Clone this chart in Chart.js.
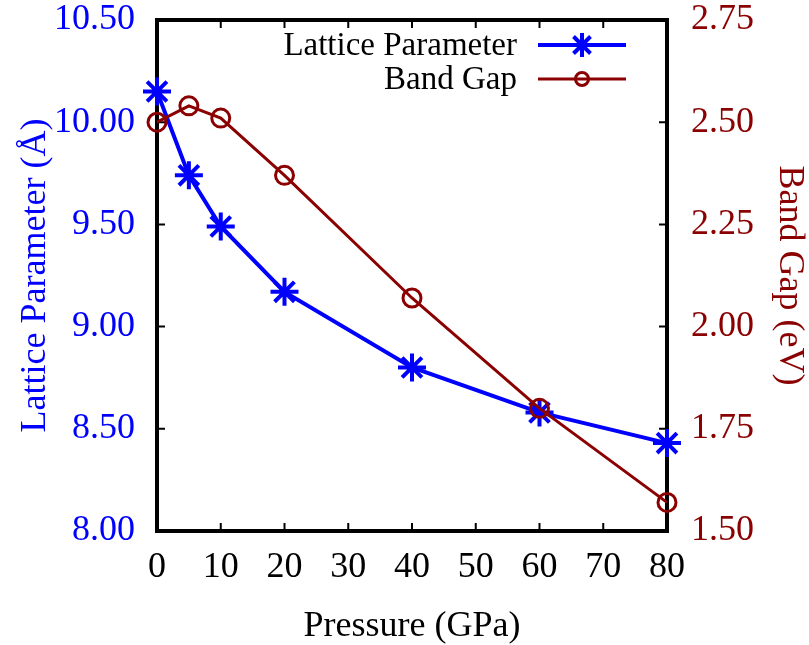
<!DOCTYPE html>
<html>
<head>
<meta charset="utf-8">
<title>Lattice Parameter and Band Gap vs Pressure</title>
<script src="https://cdn.jsdelivr.net/npm/chart.js@4/dist/chart.umd.min.js"></script>
<style>
  html, body { margin: 0; padding: 0; background: #ffffff; }
  #wrap { width: 809px; height: 645px; }
</style>
</head>
<body>
<div id="wrap"><canvas id="chart" width="809" height="645"></canvas></div>
<script>
// Pressure points (GPa)
const pressure = [0, 5, 10, 20, 40, 60, 80];
// Lattice parameter (Å) at each pressure
const latticeParam = [10.15, 9.74, 9.49, 9.17, 8.80, 8.58, 8.43];
// Band gap (eV) at each pressure
const bandGap = [2.50, 2.54, 2.51, 2.37, 2.07, 1.80, 1.57];

// Axis ranges
const pressureRange = [0, 80];
const latticeRange = [8.0, 10.5];
const gapRange = [1.5, 2.75];

const seriesNames = ['Lattice Parameter', 'Band Gap'];

const BLUE = '#0000ff';
const DARK_RED = '#8b0000';
const FONT_FAMILY = "'Liberation Serif', 'Times New Roman', serif";
const FONT_SIZE = 36;

const toPoints = (ys) => pressure.map((p, i) => ({ x: p, y: ys[i] }));

// Thick frame with inward tick marks
const framePlugin = {
  id: 'frame',
  beforeDatasetsDraw(chart) {
    const { ctx, chartArea: a, scales } = chart;
    ctx.save();
    ctx.strokeStyle = '#000';
    ctx.lineWidth = 2;
    const tl = 8;
    ctx.beginPath();
    scales.x.ticks.forEach(t => {
      const px = scales.x.getPixelForValue(t.value);
      ctx.moveTo(px, a.bottom); ctx.lineTo(px, a.bottom - tl);
      ctx.moveTo(px, a.top); ctx.lineTo(px, a.top + tl);
    });
    scales.yL.ticks.forEach(t => {
      const py = scales.yL.getPixelForValue(t.value);
      ctx.moveTo(a.left, py); ctx.lineTo(a.left + tl, py);
    });
    scales.yR.ticks.forEach(t => {
      const py = scales.yR.getPixelForValue(t.value);
      ctx.moveTo(a.right, py); ctx.lineTo(a.right - tl, py);
    });
    ctx.stroke();
    ctx.lineWidth = 4;
    ctx.strokeRect(a.left, a.top, a.right - a.left, a.bottom - a.top);
    ctx.restore();
  }
};

// Key in the upper right: right-aligned names followed by a line sample with its marker
const keyPlugin = {
  id: 'key',
  afterDraw(chart) {
    const { ctx } = chart;
    const textRight = 517, lineStart = 538, lineEnd = 626;
    const rows = [45, 79];
    ctx.save();
    ctx.font = `33px ${FONT_FAMILY}`;
    ctx.textAlign = 'right';
    ctx.textBaseline = 'middle';
    ctx.fillStyle = '#000';
    chart.data.datasets.slice().sort((a, b) => a.keyRow - b.keyRow).forEach((ds, i) => {
      const y = rows[i];
      ctx.fillText(ds.label, textRight, y + 1);
      ctx.strokeStyle = ds.borderColor;
      ctx.lineWidth = ds.borderWidth;
      ctx.beginPath();
      ctx.moveTo(lineStart, y); ctx.lineTo(lineEnd, y);
      ctx.stroke();
      const cx = (lineStart + lineEnd) / 2;
      ctx.lineWidth = ds.pointBorderWidth;
      ctx.beginPath();
      if (ds.pointStyle === 'star') {
        const r = 12;
        const d = r * Math.SQRT1_2;
        ctx.moveTo(cx - r, y); ctx.lineTo(cx + r, y);
        ctx.moveTo(cx, y - r); ctx.lineTo(cx, y + r);
        ctx.moveTo(cx - d, y - d); ctx.lineTo(cx + d, y + d);
        ctx.moveTo(cx - d, y + d); ctx.lineTo(cx + d, y - d);
      } else {
        const rr = 6.5;
        ctx.moveTo(cx + rr, y);
        ctx.arc(cx, y, rr, 0, Math.PI * 2);
      }
      ctx.stroke();
    });
    ctx.restore();
  }
};

const tickFont = { family: FONT_FAMILY, size: FONT_SIZE, lineHeight: 1.1 };
const titleFont = { family: FONT_FAMILY, size: FONT_SIZE, lineHeight: 1.0 };

// Fixed axis band sizes so the plot box sits where intended
const fitVertical = (w) => (scale) => { scale.width = w; scale.paddingTop = 0; scale.paddingBottom = 0; };

new Chart(document.getElementById('chart'), {
  type: 'line',
  data: {
    datasets: [
      {
        label: seriesNames[0],
        keyRow: 0,
        data: toPoints(latticeParam),
        yAxisID: 'yL',
        borderColor: BLUE,
        backgroundColor: BLUE,
        borderWidth: 4,
        pointStyle: 'star',
        pointRadius: 14,
        pointBorderWidth: 4,
        pointBorderColor: BLUE,
        pointBackgroundColor: BLUE,
        tension: 0,
        clip: false,
        order: 2
      },
      {
        label: seriesNames[1],
        keyRow: 1,
        data: toPoints(bandGap),
        yAxisID: 'yR',
        borderColor: DARK_RED,
        backgroundColor: 'rgba(0,0,0,0)',
        borderWidth: 3,
        pointStyle: 'circle',
        pointRadius: 9,
        pointBorderWidth: 3,
        pointBorderColor: DARK_RED,
        pointBackgroundColor: 'rgba(0,0,0,0)',
        tension: 0,
        clip: false,
        order: 1
      }
    ]
  },
  options: {
    responsive: false,
    animation: false,
    layout: { padding: { top: 20, left: 0, right: 0, bottom: 0 }, autoPadding: false },
    plugins: {
      legend: { display: false },
      tooltip: { enabled: false }
    },
    scales: {
      x: {
        type: 'linear',
        position: 'bottom',
        min: pressureRange[0],
        max: pressureRange[1],
        grid: { display: false, drawTicks: false },
        border: { display: false },
        ticks: { stepSize: 10, color: '#000', font: tickFont, padding: 17, maxRotation: 0 },
        title: { display: true, text: 'Pressure (GPa)', color: '#000', font: titleFont, padding: { top: 0, bottom: 0 } },
        afterFit(scale) { scale.height = 114; scale.paddingLeft = 0; scale.paddingRight = 0; }
      },
      yL: {
        type: 'linear',
        position: 'left',
        min: latticeRange[0],
        max: latticeRange[1],
        grid: { display: false, drawTicks: false },
        border: { display: false },
        ticks: { stepSize: 0.5, color: BLUE, font: tickFont, padding: 22, callback: v => v.toFixed(2) },
        title: { display: true, text: 'Lattice Parameter (Å)', color: BLUE, font: titleFont, padding: { top: 18, bottom: 0 } },
        afterFit: fitVertical(157)
      },
      yR: {
        type: 'linear',
        position: 'right',
        min: gapRange[0],
        max: gapRange[1],
        grid: { display: false, drawTicks: false },
        border: { display: false },
        ticks: { stepSize: 0.25, color: DARK_RED, font: tickFont, padding: 24, callback: v => v.toFixed(2) },
        title: { display: true, text: 'Band Gap (eV)', color: DARK_RED, font: titleFont, padding: { top: 2, bottom: 0 } },
        afterFit: fitVertical(142)
      }
    }
  },
  plugins: [framePlugin, keyPlugin]
});
</script>
</body>
</html>
